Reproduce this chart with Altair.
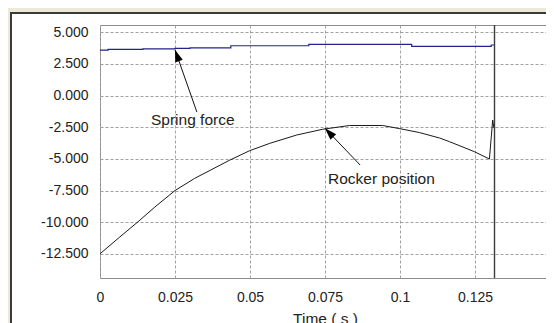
import math
import altair as alt
import pandas as pd

# ---- data ----
rocker_t = [0, 0.0066, 0.0127, 0.0183, 0.025, 0.0316, 0.0373, 0.0433, 0.0499, 0.0566,
            0.0656, 0.0742, 0.0832, 0.0942, 0.0999, 0.1065, 0.1132, 0.1165, 0.1200,
            0.1248, 0.1298, 0.1309, 0.1313]
rocker_v = [-12.5, -11.17, -9.96, -8.8, -7.5, -6.53, -5.83, -5.09, -4.35, -3.77,
            -3.11, -2.66, -2.36, -2.36, -2.61, -2.92, -3.35, -3.64, -3.97,
            -4.43, -5.01, -1.93, -2.56]

spring_t = [0, 0.0027, 0.0143, 0.025, 0.030, 0.0436, 0.0696, 0.1039, 0.1304, 0.1315]
spring_v = [3.60, 3.66, 3.70, 3.74, 3.78, 3.94, 4.05, 3.89, 4.00, 4.00]

marker_t = [0.1315]

x_ticks = [0, 0.025, 0.05, 0.075, 0.1, 0.125]
y_ticks = [5, 2.5, 0, -2.5, -5, -7.5, -10, -12.5]
x_domain = [0, 0.15]
y_domain = [-14.41, 5.58]

labels = ["Spring force", "Rocker position"]
label_t = [0.017, 0.076]
label_v = [-2.32, -6.98]
arrow_from_t = [0.0323, 0.0867]
arrow_from_v = [-1.30, -5.48]
arrow_tip_t = [0.025, 0.075]
arrow_tip_v = [3.62, -2.58]

W, H = 450, 253
FONT = "Liberation Sans"

# ---- tables ----
rocker = pd.DataFrame({"t": rocker_t, "v": rocker_v})
spring = pd.DataFrame({"t": spring_t, "v": spring_v})
marker = pd.DataFrame({"t": marker_t})

sx = W / (x_domain[1] - x_domain[0])
sy = H / (y_domain[1] - y_domain[0])
angles = []
for t0, v0, t1, v1 in zip(arrow_from_t, arrow_from_v, arrow_tip_t, arrow_tip_v):
    dx = (t1 - t0) * sx
    dy = -(v1 - v0) * sy
    angles.append(math.degrees(math.atan2(dx, -dy)) % 360)
arrows = pd.DataFrame({"t0": arrow_from_t, "v0": arrow_from_v,
                       "t1": arrow_tip_t, "v1": arrow_tip_v, "angle": angles})
notes = pd.DataFrame({"t": label_t, "v": label_v, "label": labels})

xs = alt.Scale(domain=x_domain, nice=False, zero=False)
ys = alt.Scale(domain=y_domain, nice=False, zero=False)

x_axis = alt.Axis(values=x_ticks, title="Time ( s )",
                  labelExpr="format(datum.value, '~g')",
                  titleFont=FONT, titleFontSize=15.5, titleFontWeight="normal",
                  titleColor="#222", titleBaseline="top", titleY=33,
                  labelPadding=12, labelFlush=False, labelOverlap=False)
y_axis = alt.Axis(values=y_ticks, title=None, labelPadding=12, labelFlush=False,
                  labelOverlap=False,
                  labelExpr="datum.value < 0 ? '-' + format(-datum.value, '.3f') : format(datum.value, '.3f')")


def X(field):
    return alt.X(field, type="quantitative", scale=xs, axis=x_axis)


def Y(field):
    return alt.Y(field, type="quantitative", scale=ys, axis=y_axis)


one = alt.Data(values=[{}])

# window frame decoration
beige_left = alt.Chart(one).mark_rect(color="#ECE9D8").encode(
    x=alt.value(-100), x2=alt.value(-90), y=alt.value(-25), y2=alt.value(300))
beige_top = alt.Chart(one).mark_rect(color="#ECE9D8").encode(
    x=alt.value(-100), x2=alt.value(460), y=alt.value(-25), y2=alt.value(-13))
frame_left = alt.Chart(one).mark_rule(color="#3a3a3a", strokeWidth=2).encode(
    x=alt.value(-89), y=alt.value(-13), y2=alt.value(300))
frame_top = alt.Chart(one).mark_rule(color="#3a3a3a", strokeWidth=2).encode(
    x=alt.value(-90), x2=alt.value(460), y=alt.value(-12))

rocker_line = alt.Chart(rocker).mark_line(color="#1a1a1a", strokeWidth=1).encode(
    x=X("t"), y=Y("v"))
spring_line = alt.Chart(spring).mark_line(color="#23238f", strokeWidth=1.2,
                                          interpolate="step-after").encode(
    x=X("t"), y=Y("v"))
vline = alt.Chart(marker).mark_rule(color="#3c3c3c", strokeWidth=1.4).encode(
    x=X("t"))

arrow_lines = alt.Chart(arrows).mark_rule(color="#111111", strokeWidth=1).encode(
    x=X("t0"), y=Y("v0"), x2="t1:Q", y2="v1:Q")
arrow_heads = alt.Chart(arrows).mark_point(
    shape="M0,0 L-0.33,1 L0.33,1 Z", filled=True, size=576, color="#000000",
    opacity=1, strokeWidth=0).encode(
    x=X("t1"), y=Y("v1"),
    angle=alt.Angle("angle:Q", scale=None))
texts = alt.Chart(notes).mark_text(align="left", baseline="alphabetic", font=FONT,
                                   fontSize=15.5, color="#222222").encode(
    x=X("t"), y=Y("v"), text="label:N")

chart = alt.layer(
    beige_left, beige_top, frame_left, frame_top,
    rocker_line, spring_line, vline, arrow_lines, arrow_heads, texts
).properties(
    width=W, height=H,
    autosize=alt.AutoSizeParams(type="none"),
    padding={"left": 92, "top": 17, "right": -4, "bottom": 45},
    background="white",
).configure_view(
    stroke="#8c8c8c", strokeWidth=1
).configure_axis(
    labelFont=FONT, labelFontSize=14, labelColor="#222222",
    grid=True, gridColor="#a0a0a0", gridDash=[3, 2], gridWidth=1,
    ticks=False, tickSize=0, domain=False,
)

chart.save("out.html", embed_options={"renderer": "svg", "actions": False})
